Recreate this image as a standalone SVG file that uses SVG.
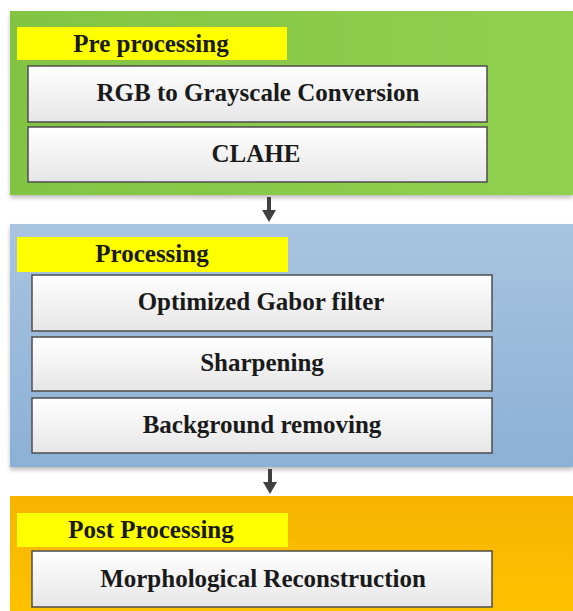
<svg xmlns="http://www.w3.org/2000/svg" width="573" height="611" viewBox="0 0 573 611">
<defs>
<linearGradient id="gGreen" x1="0" y1="0" x2="1" y2="0"><stop offset="0" stop-color="#82c443"/><stop offset="1" stop-color="#92d050"/></linearGradient>
<linearGradient id="gBlue" x1="0" y1="0" x2="0" y2="1"><stop offset="0" stop-color="#a9c4df"/><stop offset="1" stop-color="#8cb0d6"/></linearGradient>
<linearGradient id="gOrange" x1="0" y1="0" x2="0" y2="1"><stop offset="0" stop-color="#f6b400"/><stop offset="1" stop-color="#fdc200"/></linearGradient>
<linearGradient id="gBox" x1="0" y1="0" x2="0" y2="1"><stop offset="0" stop-color="#ffffff"/><stop offset="1" stop-color="#e6e6e6"/></linearGradient>
<filter id="sh" x="-5%" y="-5%" width="110%" height="115%"><feDropShadow dx="0" dy="3" stdDeviation="2" flood-color="#000" flood-opacity="0.25"/></filter>
<marker id="ah" viewBox="0 0 12 14" refX="1" refY="7" markerWidth="3" markerHeight="3.5" orient="auto" markerUnits="strokeWidth"><path d="M0,0 L12,7 L0,14 Z" fill="#404040"/></marker>
</defs>
<style>
.box{fill:url(#gBox);stroke:#4d4d4d;stroke-width:1.5}
.lab{fill:#ffff00}
.t{font-family:"Liberation Serif","Times New Roman",serif;font-weight:bold;font-size:25px;fill:#1a1a1a;text-anchor:middle}
.conn{stroke:#404040;stroke-width:4;fill:none}
</style>
<rect width="573" height="611" fill="#ffffff"/>
<g id="pre">
<rect x="10" y="11" width="563" height="184" fill="url(#gGreen)" filter="url(#sh)"/>
<rect class="lab" x="17" y="27" width="270" height="33"/>
<text class="t" x="151" y="52">Pre processing</text>
</g>
<g id="rgb"><rect class="box" x="28" y="66" width="459" height="56"/><text class="t" x="258" y="101">RGB to Grayscale Conversion</text></g>
<g id="clahe"><rect class="box" x="28" y="127" width="459" height="55"/><text class="t" x="256" y="162">CLAHE</text></g>
<g id="proc">
<rect x="10" y="224" width="563" height="243" fill="url(#gBlue)" filter="url(#sh)"/>
<rect class="lab" x="17" y="237" width="271" height="35"/>
<text class="t" x="152" y="262">Processing</text>
</g>
<g id="gabor"><rect class="box" x="32" y="275" width="460" height="56"/><text class="t" x="261" y="310">Optimized Gabor filter</text></g>
<g id="sharp"><rect class="box" x="32" y="337" width="460" height="54"/><text class="t" x="262" y="371">Sharpening</text></g>
<g id="bg"><rect class="box" x="32" y="398" width="460" height="55"/><text class="t" x="262" y="433">Background removing</text></g>
<g id="post">
<rect x="10" y="496" width="563" height="120" fill="url(#gOrange)"/>
<rect class="lab" x="17" y="513" width="271" height="34"/>
<text class="t" x="151" y="538">Post Processing</text>
</g>
<g id="morph"><rect class="box" x="32" y="551" width="460" height="56"/><text class="t" x="263" y="587">Morphological Reconstruction</text></g>
<g id="connectors">
<line class="conn" x1="269" y1="197" x2="269" y2="211" marker-end="url(#ah)"/>
<line class="conn" x1="270" y1="469" x2="270" y2="483" marker-end="url(#ah)"/>
</g>
</svg>
